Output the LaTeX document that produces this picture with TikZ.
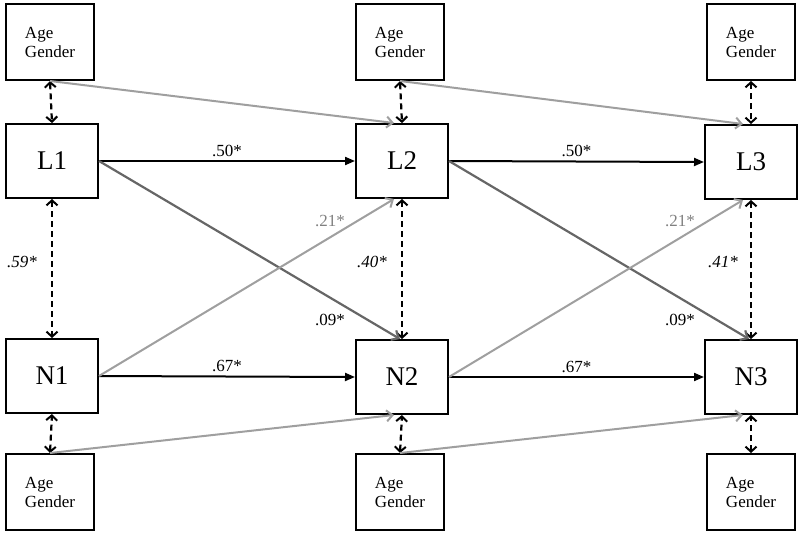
\documentclass[tikz,border=0pt]{standalone}
\usepackage{fontspec}
\setmainfont{Liberation Serif}
\usetikzlibrary{arrows.meta}
\begin{document}
\begin{tikzpicture}[x=1pt,y=-1pt,
 big/.style={draw,line width=2pt,minimum width=92pt,minimum height=74pt,font=\fontsize{27}{30}\selectfont,inner sep=0},
 cov/.style={draw,line width=2pt,minimum width=88pt,minimum height=76pt,font=\fontsize{17}{19}\selectfont,align=left,inner sep=0},
 cor/.style={line width=2.2pt,dash pattern=on 6pt off 4pt,{Straight Barb[length=5pt,width=11pt,line width=2pt]}-{Straight Barb[length=5pt,width=11pt,line width=2pt]}},
 reg/.style={line width=2pt,-{Triangle[length=10pt,width=8pt]}},
 lg/.style={line width=2pt,draw=gray!75,-{Straight Barb[length=6pt,width=11pt]}},
 dg/.style={line width=2.2pt,draw=black!60,-{Straight Barb[length=6pt,width=11pt]}},
 lab/.style={font=\fontsize{17}{19}\selectfont}]
\useasboundingbox (0,0) rectangle (800,538);
\foreach \i/\x in {1/50,2/400,3/751}{
 \node[cov] (T\i) at (\x,42) {Age\\Gender};
 \node[cov] (B\i) at (\x,492) {Age\\Gender};
}
\node[big] (L1) at (52,161) {L1};
\node[big] (L2) at (402,161) {L2};
\node[big] (L3) at (751,162) {L3};
\node[big] (N1) at (52,376) {N1};
\node[big] (N2) at (402,377) {N2};
\node[big] (N3) at (751,377) {N3};
\foreach \i in {1,2,3}{
 \draw[cor] (T\i.south) -- (L\i.north);
 \draw[cor] (B\i.north) -- (N\i.south);
 \draw[cor] (L\i.south) -- (N\i.north);
}
\draw[lg] (T1.south) -- ([xshift=-8pt]L2.north);
\draw[lg] (T2.south) -- ([xshift=-8pt]L3.north);
\draw[lg] (B1.north) -- ([xshift=-8pt]N2.south);
\draw[lg] (B2.north) -- ([xshift=-8pt]N3.south);
\draw[reg] (L1.east) -- node[lab,above]{.50*} (L2.west);
\draw[reg] (L2.east) -- node[lab,above]{.50*} (L3.west);
\draw[reg] (N1.east) -- node[lab,above]{.67*} (N2.west);
\draw[reg] (N2.east) -- node[lab,above]{.67*} (N3.west);
\draw[dg] (L1.east) -- ([xshift=-2pt]N2.north);
\draw[dg] (L2.east) -- ([xshift=-2pt]N3.north);
\draw[lg] (N1.east) -- ([xshift=-8pt]L2.south);
\draw[lg] (N2.east) -- ([xshift=-8pt]L3.south);
\node[lab,text=gray] (a1) at (330,221) {.21*};
\node[lab,text=gray] (a2) at (680,221) {.21*};
\node[lab] (b1) at (330,320) {.09*};
\node[lab] (b2) at (680,320) {.09*};
\node[lab,font=\fontsize{17}{19}\selectfont\itshape] (c1) at (22,262) {.59*};
\node[lab,font=\fontsize{17}{19}\selectfont\itshape] (c2) at (372,262) {.40*};
\node[lab,font=\fontsize{17}{19}\selectfont\itshape] (c3) at (723,262) {.41*};
\end{tikzpicture}
\end{document}
